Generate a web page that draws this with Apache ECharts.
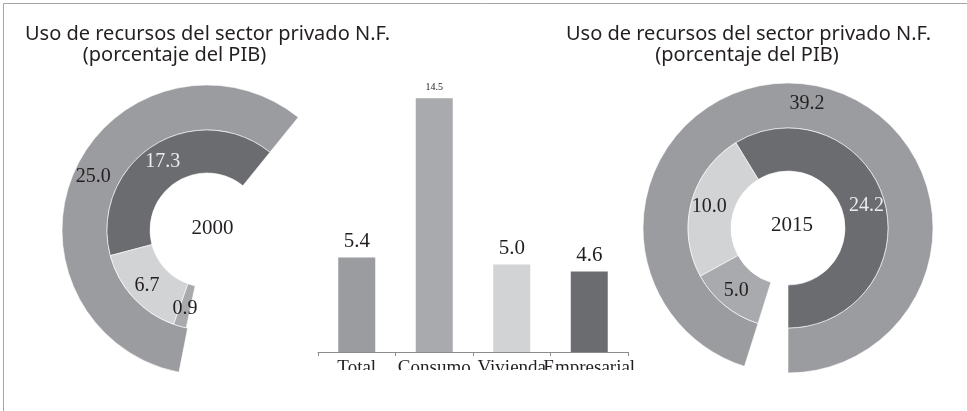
<!DOCTYPE html>
<html>
<head>
<meta charset="utf-8">
<title>Uso de recursos del sector privado N.F.</title>
<script src="https://cdn.jsdelivr.net/npm/echarts@6/dist/echarts.min.js"></script>
<style>
    html, body { margin: 0; padding: 0; background: #fff; }
    #main { width: 967px; height: 411px; }
</style>
</head>
<body>
<div id="main"></div>
<script>
// datos
var anios = ['2000', '2015'];
var totales = [25.0, 39.2];
// orden anillo interior: Empresarial, Vivienda, Consumo
var segmentos = ['Empresarial', 'Vivienda', 'Consumo'];
var valores2000 = [17.3, 6.7, 0.9];
var valores2015 = [24.2, 10.0, 5.0];
var categorias = ['Total', 'Consumo', 'Vivienda', 'Empresarial'];
var valoresBarras = [5.4, 14.5, 5.0, 4.6];

var titulo1 = 'Uso de recursos del sector privado N.F.';
var titulo2 = '(porcentaje del PIB)';

// colores
var cTotal = '#9b9c9f';
var cConsumo = '#a9aaad';
var cVivienda = '#d2d3d5';
var cEmpresarial = '#6b6c70';
var cTexto = '#231f20';
var serif = '"Liberation Serif", "DejaVu Serif", serif';
var sans = '"Noto Sans", "Open Sans", sans-serif';

var coloresSeg = {
    Empresarial: cEmpresarial,
    Vivienda: cVivienda,
    Consumo: cConsumo
};

function relleno(v) {
    // parte invisible del anillo
    return {
        value: v,
        itemStyle: { color: 'rgba(0,0,0,0)', borderWidth: 0 },
        label: { show: false }
    };
}

function donut(centro, total, valores, escala, inicio) {
    var suma = valores.reduce(function (a, b) { return a + b; }, 0);
    var interior = valores.map(function (v, i) {
        var nombre = segmentos[i];
        return {
            name: nombre,
            value: v,
            itemStyle: { color: coloresSeg[nombre] },
            label: { color: nombre === 'Empresarial' ? '#ececec' : cTexto }
        };
    });
    interior.push(relleno(escala - suma));

    var comun = {
        type: 'pie',
        center: centro,
        startAngle: inicio,
        clockwise: false,
        silent: true,
        animation: false,
        avoidLabelOverlap: false,
        labelLine: { show: false },
        itemStyle: { borderColor: '#fff', borderWidth: 0.6 },
        label: {
            show: true,
            position: 'inside',
            fontFamily: serif,
            fontSize: 20,
            color: cTexto,
            formatter: function (p) { return p.value.toFixed(1); }
        }
    };

    var exterior = Object.assign({}, comun, {
        radius: [100, 145],
        data: [
            { name: 'Total', value: total, itemStyle: { color: cTotal } },
            relleno(escala - total)
        ]
    });
    var dentro = Object.assign({}, comun, {
        radius: [57, 100],
        data: interior
    });
    return [exterior, dentro];
}

var chart = echarts.init(document.getElementById('main'), null, { renderer: 'canvas' });

var series = []
    .concat(donut([207, 230], totales[0], valores2000, 43.3, 51))
    .concat(donut([788, 228], totales[1], valores2015, 41.2, -90));

series.push({
    type: 'bar',
    silent: true,
    animation: false,
    barWidth: 37,
    data: valoresBarras.map(function (v, i) {
        var c = [cTotal, cConsumo, cVivienda, cEmpresarial][i];
        var item = { value: v, itemStyle: { color: c } };
        if (categorias[i] === 'Consumo') {
            item.label = { fontSize: 10 };
        }
        return item;
    }),
    label: {
        show: true,
        position: 'top',
        distance: 6,
        fontFamily: serif,
        fontSize: 21,
        color: cTexto,
        formatter: function (p) { return p.value.toFixed(1); }
    }
});

var option = {
    backgroundColor: '#fff',
    grid: { left: 318, width: 310, top: 89.5, height: 262.5 },
    xAxis: {
        type: 'category',
        data: categorias,
        axisLine: { lineStyle: { color: '#8c8c8c', width: 1 } },
        axisTick: { show: true, length: 4, lineStyle: { color: '#8c8c8c' } },
        axisLabel: {
            fontFamily: serif,
            fontSize: 19,
            color: cTexto,
            margin: 7,
            interval: 0
        }
    },
    yAxis: {
        type: 'value',
        min: 0,
        max: 15,
        show: false
    },
    series: series,
    graphic: [
        {
            // recorte inferior de las etiquetas del eje
            type: 'rect',
            z: 100,
            shape: { x: 300, y: 370, width: 360, height: 41 },
            style: { fill: '#fff' }
        },
        {
            type: 'rect',
            z: 101,
            shape: { x: 3.5, y: 3.5, width: 1000, height: 500 },
            style: { fill: 'none', stroke: '#a6a6a6', lineWidth: 1 }
        },
        {
            type: 'text', z: 101, x: 207.5, y: 34,
            style: { text: titulo1, fontFamily: sans, fontSize: 20, fill: cTexto, align: 'center', verticalAlign: 'middle' }
        },
        {
            type: 'text', z: 101, x: 174.5, y: 55.5,
            style: { text: titulo2, fontFamily: sans, fontSize: 20, fill: cTexto, align: 'center', verticalAlign: 'middle' }
        },
        {
            type: 'text', z: 101, x: 748.5, y: 34,
            style: { text: titulo1, fontFamily: sans, fontSize: 20, fill: cTexto, align: 'center', verticalAlign: 'middle' }
        },
        {
            type: 'text', z: 101, x: 747, y: 55.5,
            style: { text: titulo2, fontFamily: sans, fontSize: 20, fill: cTexto, align: 'center', verticalAlign: 'middle' }
        },
        {
            type: 'text', z: 101, x: 212.5, y: 228,
            style: { text: anios[0], fontFamily: serif, fontSize: 21, fill: cTexto, align: 'center', verticalAlign: 'middle' }
        },
        {
            type: 'text', z: 101, x: 792, y: 225,
            style: { text: anios[1], fontFamily: serif, fontSize: 21, fill: cTexto, align: 'center', verticalAlign: 'middle' }
        }
    ]
};

chart.setOption(option);
</script>
</body>
</html>
